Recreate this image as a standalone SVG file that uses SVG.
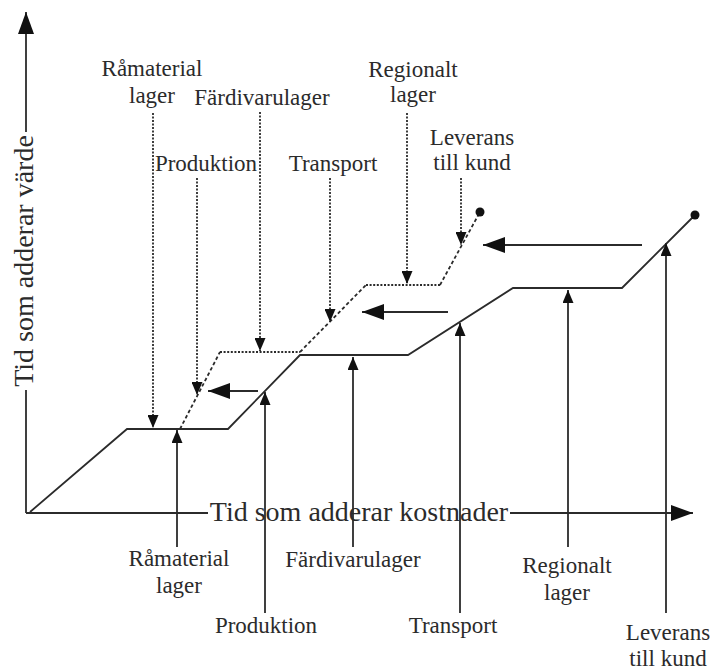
<svg xmlns="http://www.w3.org/2000/svg" width="710" height="670" viewBox="0 0 710 670">
<defs>
<style>
text{font-family:"Liberation Serif","Times New Roman",serif;fill:#2b2b2b;}
.lbl{font-size:23px;text-anchor:middle;}
.ax{font-size:28px;}
.solid{fill:none;stroke:#2b2b2b;stroke-width:1.8;}
.dash{fill:none;stroke:#2b2b2b;stroke-width:1.8;stroke-dasharray:3.5 2.5;}
.dot{fill:none;stroke:#2b2b2b;stroke-width:1.8;stroke-dasharray:2 1.6;}
.conn{fill:none;stroke:#2b2b2b;stroke-width:1.8;}
.dconn{fill:none;stroke:#2b2b2b;stroke-width:1.8;stroke-dasharray:2 1.5;}
</style>
<marker id="ah" viewBox="0 0 13 11" refX="13" refY="5.5" markerWidth="13" markerHeight="11" markerUnits="userSpaceOnUse" orient="auto">
<path d="M0,0 L13,5.5 L0,11 Z" fill="#111"/>
</marker>
<marker id="ahBig" viewBox="0 0 22 16" refX="22" refY="8" markerWidth="22" markerHeight="16" markerUnits="userSpaceOnUse" orient="auto">
<path d="M0,0 L22,8 L0,16 Z" fill="#111"/>
</marker>
</defs>
<g id="axes">
<line class="solid" x1="26" y1="513" x2="26" y2="390"/>
<line class="solid" x1="26" y1="132" x2="26" y2="12" marker-end="url(#ahBig)"/>
<line class="solid" x1="26" y1="513" x2="208" y2="513"/>
<line class="solid" x1="510" y1="513" x2="693" y2="513" marker-end="url(#ahBig)"/>
<text class="ax" transform="translate(33,261) rotate(-90)" text-anchor="middle">Tid som adderar värde</text>
<text class="ax" x="359" y="521" text-anchor="middle">Tid som adderar kostnader</text>
</g>
<g id="cost-curve">
<polyline class="solid" points="30,512 127,429 228,429 300,355 408,355 513,288 622,288 695,215"/>
<circle cx="695" cy="215" r="4.5" fill="#111"/>
</g>
<g id="value-curve">
<line class="dash" x1="180" y1="429" x2="220" y2="352"/>
<line class="dot" x1="220" y1="352" x2="300" y2="352"/>
<line class="dash" x1="300" y1="352" x2="366" y2="285"/>
<line class="dot" x1="366" y1="285" x2="440" y2="285"/>
<line class="dash" x1="440" y1="285" x2="480" y2="212"/>
<circle cx="480" cy="212" r="4.5" fill="#111"/>
</g>
<g id="top-labels">
<g id="top-ramaterial"><text class="lbl" x="152" y="76">Råmaterial</text><text class="lbl" x="152" y="103">lager</text></g>
<g id="top-fardivarulager"><text class="lbl" x="262" y="105">Färdivarulager</text></g>
<g id="top-produktion"><text class="lbl" x="206" y="171">Produktion</text></g>
<g id="top-transport"><text class="lbl" x="333" y="171">Transport</text></g>
<g id="top-regionalt"><text class="lbl" x="413" y="77">Regionalt</text><text class="lbl" x="413" y="102">lager</text></g>
<g id="top-leverans"><text class="lbl" x="472" y="145">Leverans</text><text class="lbl" x="472" y="170">till kund</text></g>
</g>
<g id="bottom-labels">
<g id="bot-ramaterial"><text class="lbl" x="179" y="566">Råmaterial</text><text class="lbl" x="179" y="593">lager</text></g>
<g id="bot-fardivarulager"><text class="lbl" x="353" y="567">Färdivarulager</text></g>
<g id="bot-produktion"><text class="lbl" x="266" y="633">Produktion</text></g>
<g id="bot-transport"><text class="lbl" x="453" y="633">Transport</text></g>
<g id="bot-regionalt"><text class="lbl" x="567" y="573">Regionalt</text><text class="lbl" x="567" y="600">lager</text></g>
<g id="bot-leverans"><text class="lbl" x="668" y="640">Leverans</text><text class="lbl" x="668" y="666">till kund</text></g>
</g>
<g id="connectors">
<line class="dconn" x1="153" y1="113" x2="153" y2="428" marker-end="url(#ah)"/>
<line class="dconn" x1="197" y1="178" x2="197" y2="395" marker-end="url(#ah)"/>
<line class="dconn" x1="260" y1="112" x2="260" y2="351" marker-end="url(#ah)"/>
<line class="dconn" x1="330" y1="178" x2="330" y2="322" marker-end="url(#ah)"/>
<line class="dconn" x1="407" y1="113" x2="407" y2="284" marker-end="url(#ah)"/>
<line class="dconn" x1="461" y1="178" x2="461" y2="245" marker-end="url(#ah)"/>
<line class="conn" x1="177" y1="547" x2="177" y2="430" marker-end="url(#ah)"/>
<line class="conn" x1="265" y1="613" x2="265" y2="392" marker-end="url(#ah)"/>
<line class="conn" x1="353" y1="547" x2="353" y2="357" marker-end="url(#ah)"/>
<line class="conn" x1="460" y1="613" x2="460" y2="323" marker-end="url(#ah)"/>
<line class="conn" x1="568" y1="547" x2="568" y2="290" marker-end="url(#ah)"/>
<line class="conn" x1="666" y1="613" x2="666" y2="243" marker-end="url(#ah)"/>
<line class="conn" x1="258" y1="391" x2="208" y2="391" marker-end="url(#ahBig)"/>
<line class="conn" x1="448" y1="312" x2="362" y2="312" marker-end="url(#ahBig)"/>
<line class="conn" x1="642" y1="245" x2="483" y2="245" marker-end="url(#ahBig)"/>
</g>
</svg>
